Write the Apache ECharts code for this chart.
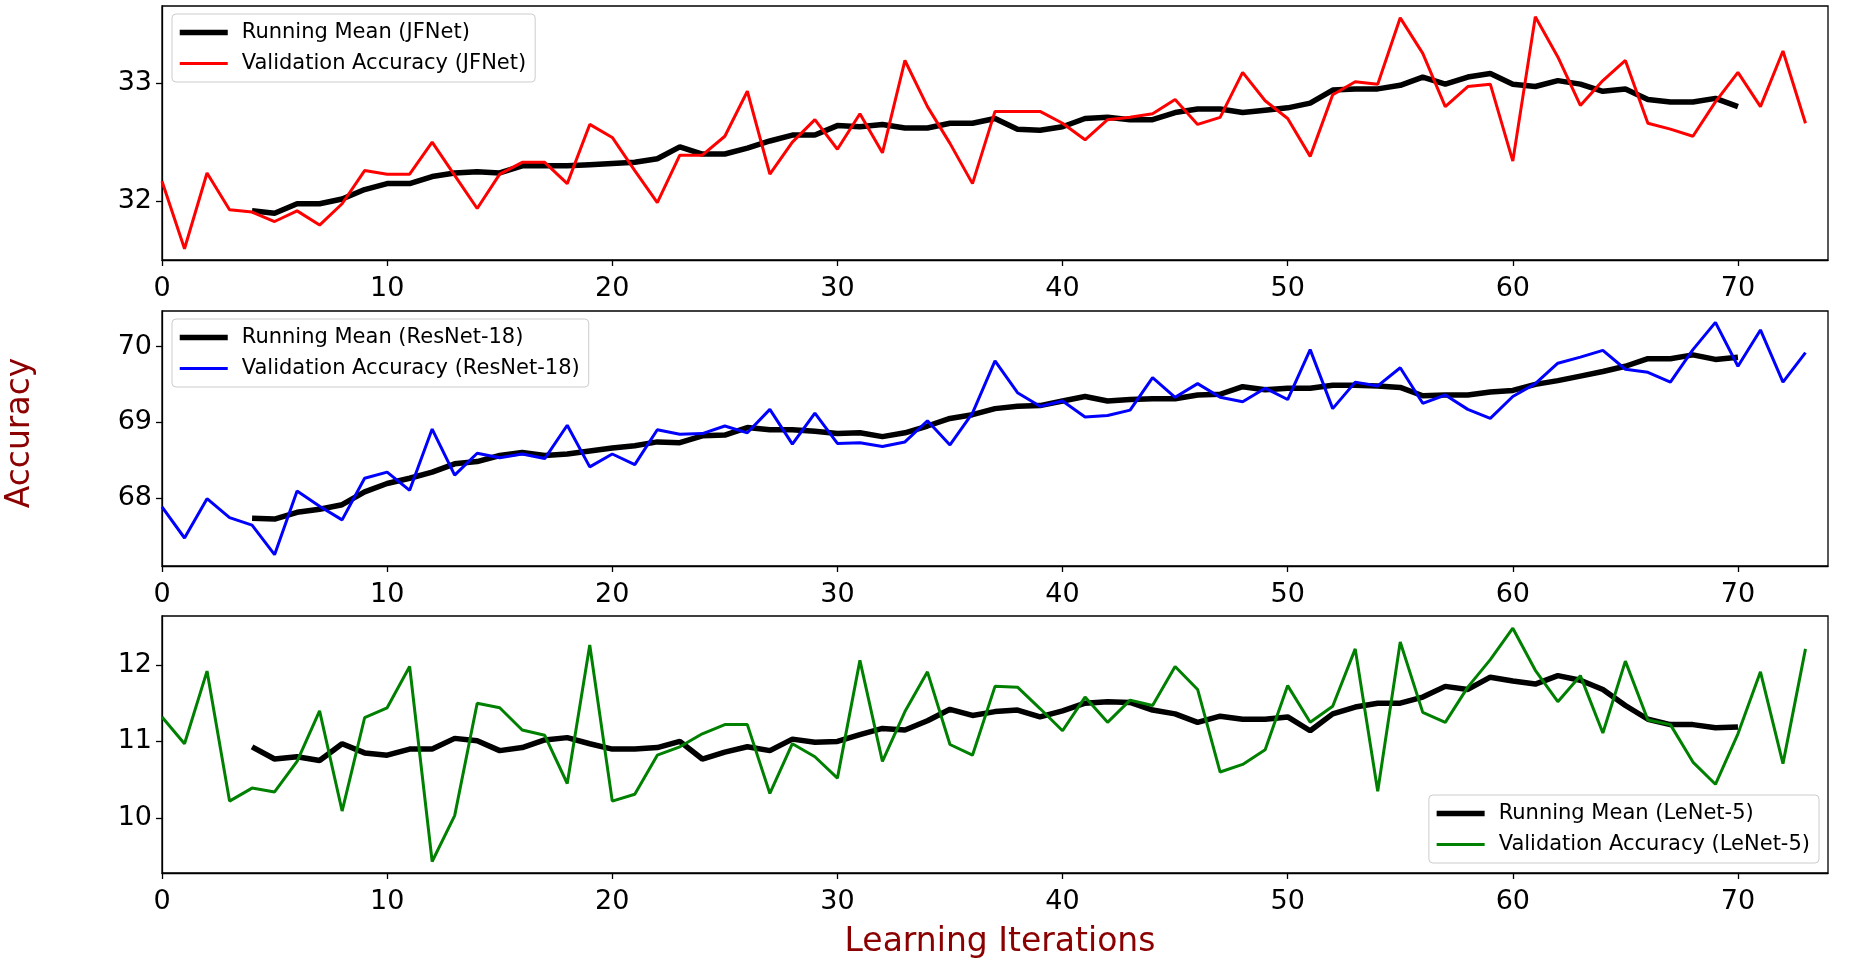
<!DOCTYPE html>
<html>
<head>
<meta charset="utf-8">
<script src="https://cdn.jsdelivr.net/npm/echarts@6/dist/echarts.min.js"></script>
<style>html,body{margin:0;padding:0;background:#fff}#c{width:1856px;height:961px}</style>
</head>
<body>
<div id="c"></div>
<script>
// ---- data (x = learning iteration index) ----
const xTicks = [0, 10, 20, 30, 40, 50, 60, 70];
const meanStart = 4; // running mean starts at iteration 4

const jfnetVal = [32.17,31.60,32.24,31.93,31.91,31.83,31.92,31.80,31.98,32.26,
  32.23,32.23,32.50,32.22,31.94,32.23,32.33,32.33,32.15,32.65,
  32.54,32.26,31.99,32.39,32.39,32.55,32.93,32.23,32.50,32.69,
  32.44,32.74,32.41,33.19,32.80,32.49,32.15,32.76,32.76,32.76,
  32.66,32.52,32.69,32.71,32.74,32.86,32.65,32.71,33.09,32.85,
  32.70,32.38,32.90,33.01,32.99,33.55,33.25,32.80,32.97,32.99,
  32.34,33.56,33.22,32.81,33.02,33.19,32.66,32.61,32.55,32.84,
  33.09,32.80,33.27,32.66];
const jfnetMean = [31.92,31.90,31.98,31.98,32.02,32.10,
  32.15,32.15,32.21,32.24,32.25,32.24,32.30,32.30,32.30,32.31,
  32.32,32.33,32.36,32.46,32.40,32.40,32.45,32.51,32.56,32.56,
  32.64,32.63,32.65,32.62,32.62,32.66,32.66,32.70,32.61,32.60,
  32.63,32.70,32.71,32.69,32.69,32.75,32.78,32.78,32.75,32.77,
  32.79,32.83,32.94,32.95,32.95,32.98,33.05,32.99,33.05,33.08,
  32.99,32.97,33.02,32.99,32.93,32.95,32.86,32.84,32.84,32.87,32.80];

const resnetVal = [67.88,67.47,67.99,67.74,67.64,67.25,68.09,67.89,67.71,68.26,
  68.34,68.10,68.91,68.30,68.59,68.53,68.58,68.52,68.96,68.41,
  68.58,68.44,68.90,68.84,68.85,68.95,68.86,69.17,68.71,69.12,
  68.72,68.73,68.68,68.74,69.02,68.70,69.12,69.81,69.39,69.21,
  69.28,69.07,69.09,69.16,69.59,69.33,69.51,69.33,69.27,69.45,
  69.30,69.96,69.18,69.53,69.48,69.72,69.25,69.36,69.17,69.05,
  69.34,69.51,69.78,69.86,69.95,69.70,69.66,69.53,69.96,70.32,
  69.74,70.22,69.53,69.92];
const resnetMean = [67.73,67.72,67.81,67.85,67.91,68.08,
  68.19,68.26,68.34,68.45,68.48,68.56,68.60,68.56,68.58,68.62,
  68.66,68.69,68.74,68.73,68.82,68.83,68.93,68.90,68.90,68.88,
  68.85,68.86,68.81,68.86,68.95,69.05,69.10,69.18,69.21,69.22,
  69.28,69.34,69.28,69.30,69.31,69.31,69.36,69.37,69.47,69.43,
  69.45,69.45,69.49,69.49,69.48,69.46,69.35,69.36,69.36,69.40,
  69.42,69.50,69.55,69.61,69.67,69.74,69.84,69.84,69.89,69.83,69.86];

const lenetVal = [11.32,10.97,11.92,10.22,10.39,10.34,10.74,11.40,10.09,11.31,
  11.44,11.98,9.43,10.03,11.50,11.44,11.15,11.08,10.45,12.26,
  10.22,10.31,10.82,10.93,11.10,11.22,11.22,10.32,10.97,10.80,
  10.52,12.06,10.74,11.39,11.91,10.96,10.82,11.72,11.71,11.43,
  11.14,11.58,11.25,11.54,11.47,11.98,11.68,10.60,10.70,10.89,
  11.73,11.25,11.46,12.21,10.35,12.30,11.38,11.25,11.71,12.07,
  12.48,11.93,11.52,11.86,11.11,12.05,11.28,11.22,10.73,10.44,
  11.10,11.91,10.71,12.21];
const lenetMean = [10.93,10.77,10.80,10.75,10.97,10.85,
  10.82,10.90,10.90,11.04,11.01,10.88,10.92,11.02,11.05,10.97,
  10.90,10.90,10.92,11.00,10.77,10.86,10.93,10.88,11.03,10.99,
  11.00,11.09,11.17,11.15,11.27,11.42,11.34,11.39,11.41,11.32,
  11.40,11.50,11.52,11.51,11.41,11.36,11.25,11.33,11.29,11.29,
  11.32,11.14,11.36,11.45,11.50,11.50,11.58,11.72,11.68,11.84,
  11.79,11.75,11.86,11.80,11.68,11.47,11.29,11.22,11.22,11.18,11.19];

const panels = [
  {name: 'JFNet', color: '#ff0000', val: jfnetVal, mean: jfnetMean, yTicks: [32, 33], ymin: 31.505, ymax: 33.65},
  {name: 'ResNet-18', color: '#0000ff', val: resnetVal, mean: resnetMean, yTicks: [68, 69, 70], ymin: 67.10, ymax: 70.47},
  {name: 'LeNet-5', color: '#008000', val: lenetVal, mean: lenetMean, yTicks: [10, 11, 12], ymin: 9.28, ymax: 12.64}
];

// ---- layout ----
const FONT = 'DejaVu Sans';
const MEAN_W = 5.5, VAL_W = 3;
const gridBoxes = [
  {top: 6, height: 254},
  {top: 311, height: 255},
  {top: 616, height: 257}
];
const legendPos = [
  {left: 172, top: 14},
  {left: 172, top: 319},
  {right: 37, top: 795}
];

const grids = [], xAxes = [], yAxes = [], series = [], legends = [];
panels.forEach((p, i) => {
  grids.push({left: 162, right: 28, top: gridBoxes[i].top, height: gridBoxes[i].height,
    show: true, borderColor: '#000', borderWidth: 1.3, backgroundColor: '#fff', containLabel: false});
  xAxes.push({type: 'value', gridIndex: i, min: 0, max: 74,
    axisLine: {show: true, lineStyle: {color: '#000', width: 1.3}},
    axisTick: {show: true, length: 6, lineStyle: {color: '#000', width: 1.3}, customValues: xTicks},
    axisLabel: {color: '#000', fontSize: 27, fontFamily: FONT, margin: 15, customValues: xTicks},
    splitLine: {show: false}});
  yAxes.push({type: 'value', gridIndex: i, min: p.ymin, max: p.ymax,
    axisLine: {show: true, lineStyle: {color: '#000', width: 1.3}},
    axisTick: {show: true, length: 6, lineStyle: {color: '#000', width: 1.3}, customValues: p.yTicks},
    axisLabel: {color: '#000', fontSize: 27, fontFamily: FONT, margin: 10, customValues: p.yTicks},
    splitLine: {show: false}});
  const meanName = 'Running Mean (' + p.name + ')';
  const valName = 'Validation Accuracy (' + p.name + ')';
  series.push({type: 'line', name: meanName, xAxisIndex: i, yAxisIndex: i,
    data: p.mean.map((v, k) => [k + meanStart, v]),
    symbol: 'none', lineStyle: {color: '#000', width: MEAN_W}, itemStyle: {color: '#000'}, z: 2});
  series.push({type: 'line', name: valName, xAxisIndex: i, yAxisIndex: i,
    data: p.val.map((v, k) => [k, v]),
    symbol: 'none', lineStyle: {color: p.color, width: VAL_W}, itemStyle: {color: p.color}, z: 3});
  legends.push(Object.assign({
    data: [
      {name: meanName, lineStyle: {width: MEAN_W, color: '#000'}},
      {name: valName, lineStyle: {width: VAL_W, color: p.color}}
    ],
    orient: 'vertical',
    itemWidth: 48, itemHeight: 18, itemGap: 10,
    padding: [8, 9, 8, 5],
    itemStyle: {opacity: 0},
    backgroundColor: 'rgba(255,255,255,0.85)', borderColor: '#cccccc', borderWidth: 1, borderRadius: 4,
    textStyle: {fontSize: 21, fontFamily: FONT, color: '#000', padding: [0, 0, 0, 9]},
    selectedMode: false
  }, legendPos[i]));
});

const chart = echarts.init(document.getElementById('c'), null, {renderer: 'canvas'});
chart.setOption({
  animation: false,
  backgroundColor: '#fff',
  grid: grids, xAxis: xAxes, yAxis: yAxes, series: series, legend: legends,
  graphic: [
    {type: 'text', x: 20, y: 433, rotation: Math.PI / 2,
      style: {text: 'Accuracy', fontSize: 33, fontFamily: FONT, fill: '#8b0000', align: 'center', verticalAlign: 'middle'}},
    {type: 'text', x: 1000, y: 942,
      style: {text: 'Learning Iterations', fontSize: 33, fontFamily: FONT, fill: '#8b0000', align: 'center', verticalAlign: 'middle'}}
  ]
});
</script>
</body>
</html>
